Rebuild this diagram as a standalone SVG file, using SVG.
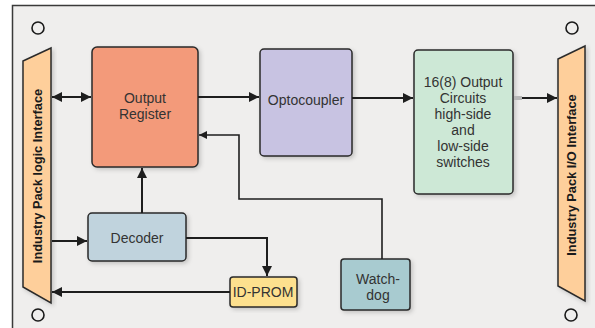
<svg xmlns="http://www.w3.org/2000/svg" width="595" height="328" viewBox="0 0 595 328">
<defs>
<filter id="sh" x="-10%" y="-10%" width="130%" height="130%">
<feDropShadow dx="2" dy="2" stdDeviation="2" flood-color="#000" flood-opacity="0.18"/>
</filter>
<marker id="ah" viewBox="0 0 10 10" refX="10" refY="5" markerWidth="5" markerHeight="5" orient="auto-start-reverse" markerUnits="strokeWidth">
<path d="M0,0 L10,5 L0,10 z" fill="#1e1e1e"/>
</marker>
</defs>
<style>
.box{stroke:#2a2a2a;stroke-width:1.5;filter:url(#sh)}
.lbl{font-family:"Liberation Sans",Arial,sans-serif;font-size:14px;fill:#333;text-anchor:middle}
.vt{font-family:"Liberation Sans",Arial,sans-serif;font-size:12.8px;font-weight:bold;fill:#1a1a1a;text-anchor:middle}
.trap{fill:#fecf9b;stroke:#2a2a2a;stroke-width:1.5;filter:url(#sh)}
.hole{fill:none;stroke:#1a1a1a;stroke-width:1.6}
.c{fill:none;stroke:#1e1e1e;stroke-width:2}
.c2{fill:none;stroke:#1e1e1e;stroke-width:1.6}
</style>
<rect x="0" y="0" width="595" height="328" fill="#ffffff"/>
<rect x="12.5" y="5.5" width="600" height="400" fill="#efeeed" stroke="#3a3a3a" stroke-width="1.5"/>
<g id="holes">
<circle class="hole" cx="38" cy="28" r="6"/>
<circle class="hole" cx="572" cy="28" r="6"/>
<circle class="hole" cx="38" cy="315" r="6"/>
<circle class="hole" cx="571" cy="315" r="6"/>
</g>
<g id="logic-interface">
<polygon class="trap" points="23,61 51,48 51,303 23,287"/>
<text class="vt" transform="translate(42,176) rotate(-90)">Industry Pack logic Interface</text>
</g>
<g id="io-interface">
<polygon class="trap" points="558,59 585,46 585,301 558,286"/>
<text class="vt" transform="translate(576,175) rotate(-90)">Industry Pack I/O Interface</text>
</g>
<g id="output-register">
<rect class="box" x="92" y="47" width="106" height="120" rx="5" fill="#f39a7a"/>
<text class="lbl" x="145" y="103">Output</text>
<text class="lbl" x="145" y="119">Register</text>
</g>
<g id="optocoupler">
<rect class="box" x="260" y="49" width="92" height="107" rx="4" fill="#c8c3e2"/>
<text class="lbl" x="306" y="105">Optocoupler</text>
</g>
<g id="output-circuits">
<rect class="box" x="414" y="50" width="99" height="144" rx="4" fill="#cde8d6"/>
<text class="lbl" x="463" y="87">16(8) Output</text>
<text class="lbl" x="463" y="103">Circuits</text>
<text class="lbl" x="463" y="119">high-side</text>
<text class="lbl" x="463" y="135">and</text>
<text class="lbl" x="463" y="151">low-side</text>
<text class="lbl" x="463" y="167">switches</text>
</g>
<g id="decoder">
<rect class="box" x="88" y="213" width="98" height="48" rx="4" fill="#c0d3dd"/>
<text class="lbl" x="137" y="243">Decoder</text>
</g>
<g id="id-prom">
<rect class="box" x="230" y="277" width="67" height="30" rx="3" fill="#fde08e"/>
<text class="lbl" x="263" y="297">ID-PROM</text>
</g>
<g id="watchdog">
<rect class="box" x="341" y="259" width="69" height="51" rx="3" fill="#a8cbd0"/>
<text class="lbl" x="378" y="284">Watch-</text>
<text class="lbl" x="378" y="300">dog</text>
</g>
<g id="connectors">
<line class="c" x1="52" y1="97" x2="91" y2="97" marker-start="url(#ah)" marker-end="url(#ah)"/>
<line class="c" x1="198" y1="97" x2="259" y2="97" marker-end="url(#ah)"/>
<line class="c" x1="352" y1="98" x2="413" y2="98" marker-end="url(#ah)"/>
<rect x="514" y="96" width="8" height="4" fill="#b8b8b8"/>
<line class="c" x1="522" y1="98" x2="557" y2="98" marker-end="url(#ah)"/>
<polyline class="c2" points="382,259 382,199 239,199 239,135 199,135" marker-end="url(#ah)"/>
<line class="c" x1="142" y1="213" x2="142" y2="168" marker-end="url(#ah)"/>
<line class="c" x1="52" y1="241" x2="87" y2="241" marker-end="url(#ah)"/>
<polyline class="c" points="186,238 267,238 267,276" marker-end="url(#ah)"/>
<line class="c" x1="230" y1="292" x2="52" y2="292" marker-end="url(#ah)"/>
</g>
</svg>
